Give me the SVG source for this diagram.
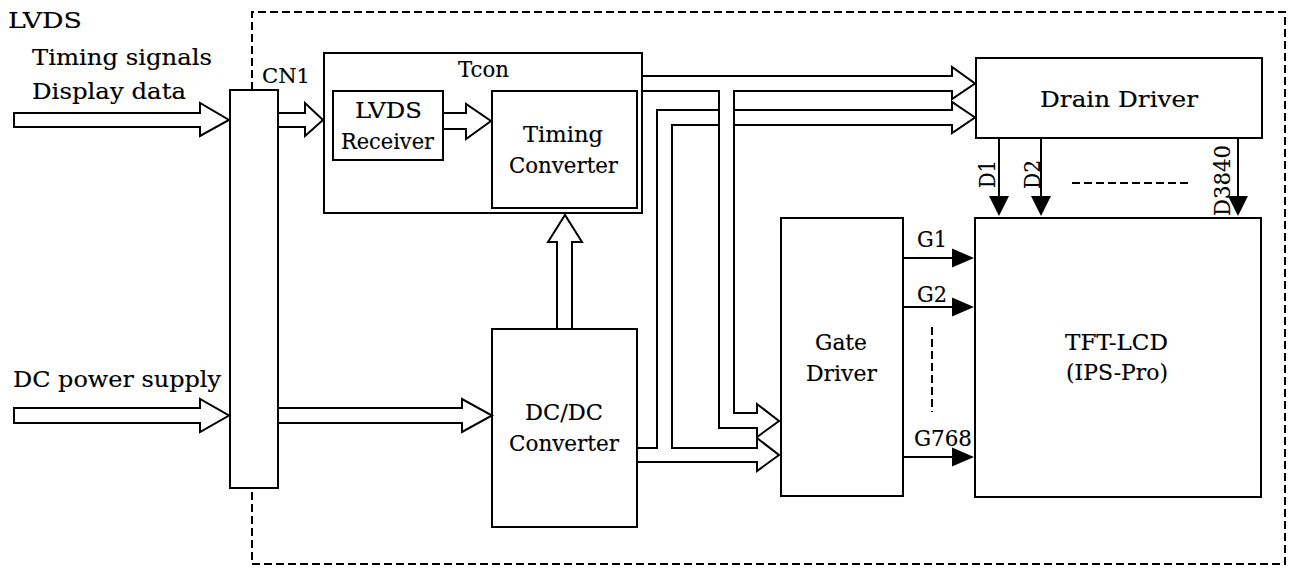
<svg xmlns="http://www.w3.org/2000/svg" width="1294" height="568" viewBox="0 0 1294 568">
<style>
.box{fill:#fff;stroke:#000;stroke-width:2}
.fat{fill:#fff;stroke:#000;stroke-width:2;stroke-linejoin:miter}
.ln{fill:none;stroke:#000;stroke-width:2}
.dash{fill:none;stroke:#000;stroke-width:2;stroke-dasharray:8 4}
.head{fill:#000;stroke:none}
text{font-family:"DejaVu Serif","Liberation Serif",serif;font-size:22px;fill:#000;stroke:#000;stroke-width:0.15}
.sm{font-size:20px}
</style>
<rect width="1294" height="568" fill="#fff"/>
<g id="frame">
<polyline class="dash" points="252,90 252,12 1285,12 1285,564 252,564 252,488"/>
</g>
<g id="labels-in">
<text x="8" y="28" textLength="74" lengthAdjust="spacingAndGlyphs">LVDS</text>
<text x="32" y="65" textLength="180" lengthAdjust="spacingAndGlyphs">Timing signals</text>
<text x="32" y="99" textLength="154" lengthAdjust="spacingAndGlyphs">Display data</text>
<text x="13" y="387" textLength="208" lengthAdjust="spacingAndGlyphs">DC power supply</text>
</g>
<g id="cn1">
<rect class="box" x="230" y="90" width="48" height="398"/>
<text class="sm" x="262" y="83" textLength="48" lengthAdjust="spacingAndGlyphs">CN1</text>
</g>
<g id="tcon">
<rect class="box" x="324" y="53" width="318" height="160"/>
<text x="458" y="77" textLength="51" lengthAdjust="spacingAndGlyphs">Tcon</text>
</g>
<g id="lvds-receiver">
<rect class="box" x="333" y="91" width="110" height="69"/>
<text x="355" y="118" textLength="67" lengthAdjust="spacingAndGlyphs">LVDS</text>
<text x="341" y="149" textLength="93" lengthAdjust="spacingAndGlyphs">Receiver</text>
</g>
<g id="timing-converter">
<rect class="box" x="492" y="91" width="145" height="117"/>
<text x="523" y="142" textLength="80" lengthAdjust="spacingAndGlyphs">Timing</text>
<text x="509" y="173" textLength="109" lengthAdjust="spacingAndGlyphs">Converter</text>
</g>
<g id="drain-driver">
<rect class="box" x="976" y="58" width="286" height="80"/>
<text x="1040" y="107" textLength="158" lengthAdjust="spacingAndGlyphs">Drain Driver</text>
</g>
<g id="tft-lcd">
<rect class="box" x="975" y="218" width="286" height="279"/>
<text x="1065" y="350" textLength="103" lengthAdjust="spacingAndGlyphs">TFT-LCD</text>
<text x="1066" y="380" textLength="102" lengthAdjust="spacingAndGlyphs">(IPS-Pro)</text>
</g>
<g id="gate-driver">
<rect class="box" x="781" y="218" width="122" height="278"/>
<text x="815" y="350" textLength="52" lengthAdjust="spacingAndGlyphs">Gate</text>
<text x="806" y="381" textLength="71" lengthAdjust="spacingAndGlyphs">Driver</text>
</g>
<g id="dcdc-converter">
<rect class="box" x="492" y="329" width="145" height="198"/>
<text x="525" y="420" textLength="78" lengthAdjust="spacingAndGlyphs">DC/DC</text>
<text x="509" y="451" textLength="110" lengthAdjust="spacingAndGlyphs">Converter</text>
</g>
<g id="connectors">
<polygon class="fat" points="14,113 200,113 200,103 229,120 200,136 200,127 14,127"/>
<polygon class="fat" points="278,113 305,113 305,103 323,120 305,136 305,127 278,127"/>
<polygon class="fat" points="443,113 466,113 466,104 491,121 466,139 466,129 443,129"/>
<polygon class="fat" points="14,408 200,408 200,399 229,415.5 200,432 200,423 14,423"/>
<polygon class="fat" points="278,408 462,408 462,399 492,415.5 462,432 462,423 278,423"/>
<polygon class="fat" points="557,329 557,242 548,242 565,215 582,242 572,242 572,329"/>
<polygon class="fat" points="637,448 657,448 657,110 952,110 952,102 975,117.5 952,133 952,125 672,125 672,448 757,448 757,438 779,455 757,471 757,462 637,462"/>
<polygon class="fat" points="642,76 952,76 952,67 975,83.5 952,99 952,91 734,91 734,413 757,413 757,404 779,421 757,437 757,428 719,428 719,91 642,91"/>
<line class="ln" x1="999" y1="138" x2="999" y2="197"/>
<polygon class="head" points="989,196 1009,196 999,216"/>
<line class="ln" x1="1041" y1="138" x2="1041" y2="197"/>
<polygon class="head" points="1031,196 1051,196 1041,216"/>
<line class="ln" x1="1238" y1="138" x2="1238" y2="197"/>
<polygon class="head" points="1228,196 1248,196 1238,216"/>
<line class="dash" x1="1072" y1="183" x2="1188" y2="183"/>
<text transform="translate(995,188) rotate(-90)" textLength="28" lengthAdjust="spacingAndGlyphs">D1</text>
<text transform="translate(1040,189) rotate(-90)" textLength="29" lengthAdjust="spacingAndGlyphs">D2</text>
<text transform="translate(1230,216) rotate(-90)" textLength="71" lengthAdjust="spacingAndGlyphs">D3840</text>
<line class="ln" x1="903" y1="258" x2="953" y2="258"/>
<polygon class="head" points="952,248.5 952,267.5 974,258"/>
<line class="ln" x1="903" y1="307" x2="953" y2="307"/>
<polygon class="head" points="952,297.5 952,316.5 974,307"/>
<line class="ln" x1="903" y1="457" x2="953" y2="457"/>
<polygon class="head" points="952,447.5 952,466.5 974,457"/>
<line class="dash" x1="932" y1="327" x2="932" y2="412"/>
<text x="917" y="247" textLength="30" lengthAdjust="spacingAndGlyphs">G1</text>
<text x="917" y="302" textLength="30" lengthAdjust="spacingAndGlyphs">G2</text>
<text x="914" y="446" textLength="58" lengthAdjust="spacingAndGlyphs">G768</text>
</g>
</svg>
